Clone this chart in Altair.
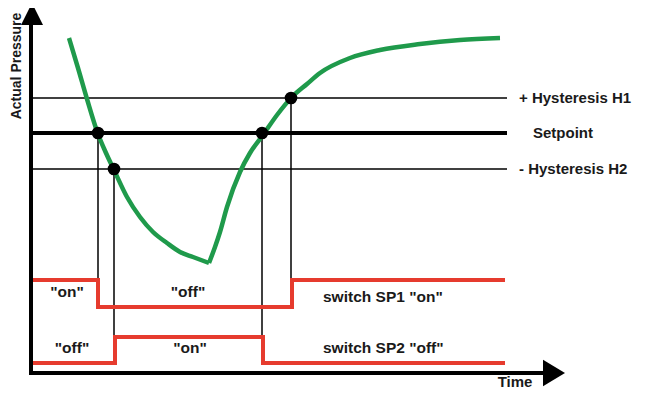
import altair as alt
import pandas as pd

# Coordinate system: t = time units, p = pressure units (both arbitrary)
# Green pressure curve: falling branch and rising branch
fall_t = [69, 78, 87, 98, 106, 114, 127, 140, 153, 167, 180, 193, 209]
fall_p = [362, 332, 301, 266, 247, 230, 203, 183, 168, 157, 148, 143, 137]
rise_t = [209, 215, 220, 227, 240, 250, 263, 277, 292, 307, 320, 350, 380, 420, 460, 500]
rise_p = [137, 153, 168, 193, 228, 247, 265, 285, 303, 316, 327, 342, 350, 356, 360, 362]

# Threshold levels
level_names = ["+ Hysteresis H1", "Setpoint", "- Hysteresis H2"]
level_p = [302, 267, 231]
level_width = [1.5, 4, 1.5]
level_label_t = [519, 533, 519]
level_t_start = 33
level_t_end = 507

# Switching points (dots)
dot_t = [98, 114, 262, 291]
dot_p = [267, 231, 267, 302]

# Vertical guide lines from switching points
vline_t = [98, 114, 262, 291]
vline_top = [267, 231, 267, 303]
vline_bottom = [120, 63, 37, 120]

# Switch states (step lines)
sp1_t = [33, 98, 98, 292, 292, 505]
sp1_p = [120, 120, 93, 93, 120, 120]
sp2_t = [33, 115, 115, 263, 263, 505]
sp2_p = [37, 37, 63, 63, 37, 37]

state_labels = ['"on"', '"off"', '"off"', '"on"']
state_t = [67, 188, 72, 190]
state_p = [108, 108, 52, 52]
switch_labels = ['switch SP1 "on"', 'switch SP2 "off"']
switch_t = [323, 323]
switch_p = [103, 52]

# Axes
yaxis_t = 31
yaxis_p = [25, 378]
xaxis_p = 27
xaxis_t = [29, 545]

W, H = 630, 384
xs = alt.Scale(domain=[8, 638], nice=False, zero=False)
ys = alt.Scale(domain=[8, 392], nice=False, zero=False)
FONT = "Liberation Sans"
TXT = "#1a1a1a"
FS = 15.5

def X(f, t="Q"):
    return alt.X(f"{f}:{t}", scale=xs, axis=None)

def Y(f, t="Q"):
    return alt.Y(f"{f}:{t}", scale=ys, axis=None)

# Horizontal level lines
lev_df = pd.DataFrame({"name": level_names, "p": level_p, "w": level_width,
                       "t0": [level_t_start] * 3, "t1": [level_t_end] * 3,
                       "lt": level_label_t})
hlines = alt.Chart(lev_df).mark_rule(color="black").encode(
    x=X("t0"), x2="t1", y=Y("p"), strokeWidth=alt.StrokeWidth("w:Q", scale=None))
hlabels = alt.Chart(lev_df).mark_text(
    align="left", baseline="middle", font=FONT, fontWeight="bold", fontSize=15, color=TXT
).encode(x=X("lt"), y=Y("p"), text="name:N")

# Vertical guides
v_df = pd.DataFrame({"t": vline_t, "p0": vline_top, "p1": vline_bottom})
vlines = alt.Chart(v_df).mark_rule(color="black", strokeWidth=1.5).encode(
    x=X("t"), y=Y("p0"), y2="p1")

# Step lines
steps_df = pd.DataFrame({
    "t": sp1_t + sp2_t,
    "p": sp1_p + sp2_p,
    "s": ["SP1"] * len(sp1_t) + ["SP2"] * len(sp2_t),
    "o": list(range(len(sp1_t))) + list(range(len(sp2_t))),
})
steps = alt.Chart(steps_df).mark_line(color="#e63b2e", strokeWidth=4, strokeJoin="miter").encode(
    x=X("t"), y=Y("p"), detail="s:N", order="o:Q")

# Green curve
curve_df = pd.DataFrame({
    "t": fall_t + rise_t,
    "p": fall_p + rise_p,
    "seg": ["fall"] * len(fall_t) + ["rise"] * len(rise_t),
    "o": list(range(len(fall_t))) + list(range(len(rise_t))),
})
curve = alt.Chart(curve_df).mark_line(color="#1f9a4b", strokeWidth=4.5, interpolate="monotone").encode(
    x=X("t"), y=Y("p"), detail="seg:N", order="o:Q")

# Dots
dots = alt.Chart(pd.DataFrame({"t": dot_t, "p": dot_p})).mark_circle(
    color="black", size=160, opacity=1).encode(x=X("t"), y=Y("p"))

# State texts
st_df = pd.DataFrame({"label": state_labels + switch_labels,
                      "t": state_t + switch_t, "p": state_p + switch_p})
st_center = alt.Chart(st_df.iloc[:4]).mark_text(
    align="center", baseline="middle", font=FONT, fontWeight="bold", fontSize=FS, color=TXT
).encode(x=X("t"), y=Y("p"), text="label:N")
st_left = alt.Chart(st_df.iloc[4:]).mark_text(
    align="left", baseline="middle", font=FONT, fontWeight="bold", fontSize=FS, color=TXT
).encode(x=X("t"), y=Y("p"), text="label:N")

# Axes lines
ax_df = pd.DataFrame({"t0": [yaxis_t, xaxis_t[0]], "t1": [yaxis_t, xaxis_t[1]],
                      "p0": [yaxis_p[0], xaxis_p], "p1": [yaxis_p[1], xaxis_p]})
axes = alt.Chart(ax_df).mark_rule(color="black", strokeWidth=4).encode(
    x=X("t0"), x2="t1", y=Y("p0"), y2="p1")

up_arrow = alt.Chart(pd.DataFrame({"t": [32], "p": [386]})).mark_point(
    shape="M0,-1L1,1L-1,1Z", size=484, filled=True, color="black", opacity=1, strokeWidth=0
).encode(x=X("t"), y=Y("p"))
right_arrow = alt.Chart(pd.DataFrame({"t": [554], "p": [27]})).mark_point(
    shape="M1,0L-1,-1.2L-1,1.2Z", size=484, filled=True, color="black", opacity=1, strokeWidth=0
).encode(x=X("t"), y=Y("p"))

# Axis titles
ytitle = alt.Chart(pd.DataFrame({"t": [17], "p": [334], "label": ["Actual Pressure"]})).mark_text(
    angle=270, align="center", baseline="middle", font=FONT, fontWeight="bold", fontSize=14, color=TXT
).encode(x=X("t"), y=Y("p"), text="label:N")
xtitle = alt.Chart(pd.DataFrame({"t": [515], "p": [18], "label": ["Time"]})).mark_text(
    align="center", baseline="middle", font=FONT, fontWeight="bold", fontSize=15, color=TXT
).encode(x=X("t"), y=Y("p"), text="label:N")

chart = alt.layer(
    hlines, vlines, steps, axes, curve, dots, hlabels, st_center, st_left,
    up_arrow, right_arrow, ytitle, xtitle
).properties(
    width=W, height=H, padding=0, autosize=alt.AutoSizeParams(type="none"),
    background="white"
).configure_view(stroke=None)

chart.save("out.html", embed_options={"renderer": "svg", "actions": False})
